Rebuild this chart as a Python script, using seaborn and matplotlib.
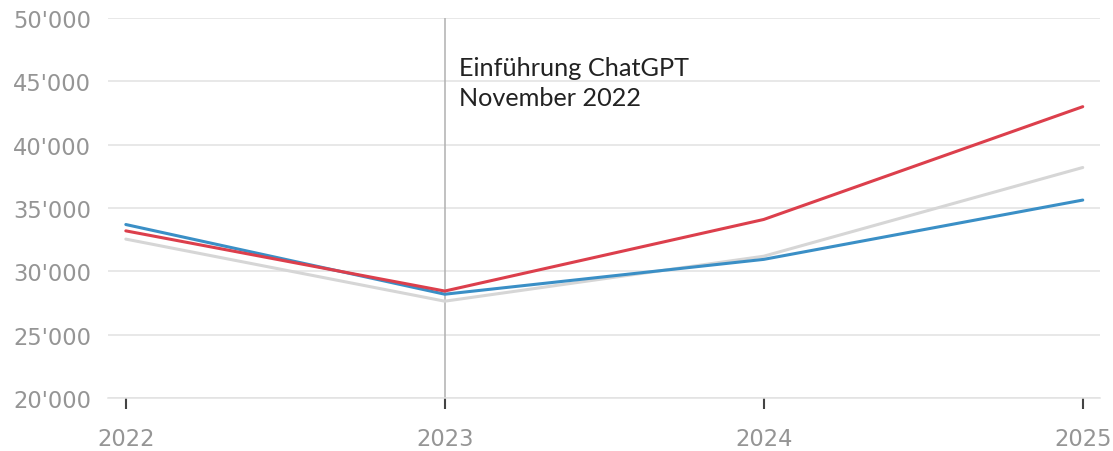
import matplotlib
matplotlib.use("Agg")
import matplotlib.pyplot as plt
import matplotlib.font_manager as fm
import seaborn as sns
import pandas as pd

years = [2022, 2023, 2024, 2025]
blue_values = [33700, 28200, 30950, 35630]
red_values = [33200, 28450, 34100, 43000]
gray_values = [32550, 27650, 31200, 38200]
series_names = ["grau", "blau", "rot"]
series_colors = {"grau": "#d6d6d6", "blau": "#3a8fc6", "rot": "#dc3f4c"}
y_ticks = [20000, 25000, 30000, 35000, 40000, 45000, 50000]
annotation_lines = ["Einführung ChatGPT", "November 2022"]

df = pd.concat([
    pd.DataFrame({"Jahr": years, "Wert": gray_values, "Serie": "grau"}),
    pd.DataFrame({"Jahr": years, "Wert": blue_values, "Serie": "blau"}),
    pd.DataFrame({"Jahr": years, "Wert": red_values, "Serie": "rot"}),
])

sns.set_theme(style="white")
plt.rcParams["font.family"] = ["Lato", "DejaVu Sans"]

tick_prop = fm.FontProperties(family=["DejaVu Sans"], size=16.3)

fig = plt.figure(figsize=(11.13, 4.52), dpi=100)
ax = fig.add_axes([0.097, 0.117, 0.891, 0.841])

ax.axvline(2023, color="#b0b0b0", lw=1.1, zorder=1)

sns.lineplot(data=df, x="Jahr", y="Wert", hue="Serie", hue_order=series_names,
             palette=series_colors, linewidth=2.2, legend=False, ax=ax, zorder=3)

ax.set_xlim(2021.944, 2025.053)
ax.set_ylim(20000, 50000)
ax.set_yticks(y_ticks)
ax.set_yticklabels([f"{v:,}".replace(",", "'") for v in y_ticks],
                   fontproperties=tick_prop, color="#959595")
ax.set_xticks(years)
ax.set_xticklabels([str(y) for y in years],
                   fontproperties=tick_prop, color="#959595")
ax.grid(axis="y", color="#e2e2e2", lw=1.1)
ax.grid(axis="x", visible=False)
for s in ["top", "right", "left"]:
    ax.spines[s].set_visible(False)
ax.spines["bottom"].set_color("#e2e2e2")
ax.spines["bottom"].set_linewidth(1.1)
ax.set_xlabel("")
ax.set_ylabel("")

ax.tick_params(axis="x", bottom=True, length=8, width=1.5, color="#444444",
               pad=13, direction="out")
ax.tick_params(axis="y", left=False, length=0, pad=12)

ax.text(2023.045, 47000, "\n".join(annotation_lines), fontsize=18.2, color="#222222",
        va="top", ha="left", linespacing=1.35, family=["Lato", "DejaVu Sans"])

fig.savefig("out.png", dpi=100)
